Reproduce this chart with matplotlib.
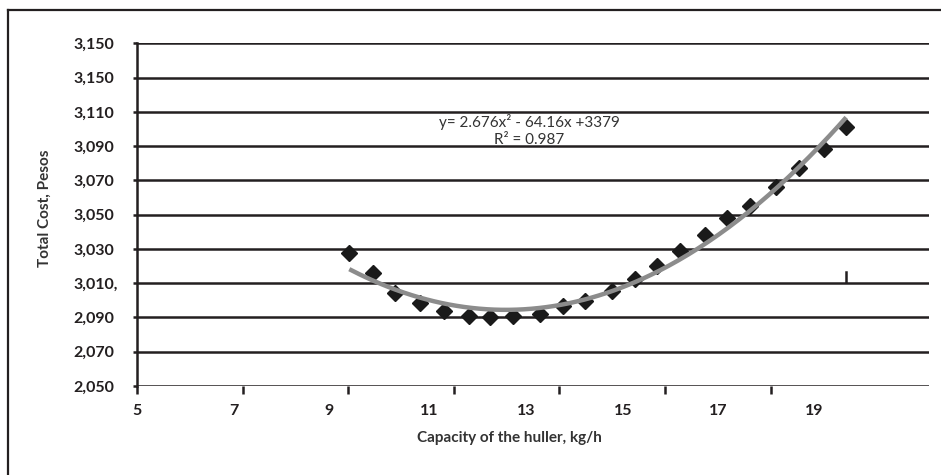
import numpy as np
import matplotlib.pyplot as plt

# capacity of the huller (kg/h) and total cost (pesos)
capacity = [9.02, 9.47, 9.88, 10.35, 10.81, 11.28, 11.68, 12.13, 12.64, 13.06, 13.49,
            13.99, 14.44, 14.84, 15.28, 15.75, 16.18, 16.60, 17.11, 17.54, 18.01, 18.43]
total_cost = [3027.4, 3016.1, 3004.1, 2998.3, 2993.9, 2991.0, 2990.1, 2991.0, 2992.0, 2996.7, 2999.6,
              3005.6, 3012.4, 3020.2, 3029.0, 3038.1, 3047.9, 3055.0, 3066.0, 3077.0, 3088.1, 3101.0]

y_ticks = [2950, 2970, 2990, 3010, 3030, 3050, 3070, 3090, 3110, 3130, 3150]
y_labels = ['2,050', '2,070', '2,090', '3,010,', '3,030', '3,050', '3,070', '3,090', '3,110', '3,150', '3,150']
x_ticks = [5, 7, 9, 11, 13, 15, 17]
x_labels = ['5', '7', '9', '11', '13', '15', '17', '19']
x_label_pos = [5, 6.84, 8.64, 10.54, 12.37, 14.21, 16.01, 17.83]

eq_text = 'y= 2.676x² - 64.16x +3379\nR² = 0.987'

plt.rcParams['font.family'] = ['Lato', 'DejaVu Sans']
dark = '#231f20'

fig = plt.figure(figsize=(9.41, 4.75), dpi=100)

# outer frame (only left and top edges show in the original)
fig.add_artist(plt.Line2D([0.0085, 0.0085], [0, 0.979], color=dark, lw=1.6))
fig.add_artist(plt.Line2D([0.0085, 1.0], [0.979, 0.979], color=dark, lw=1.6))

ax = fig.add_axes([0.1456, 0.1874, 0.8417, 0.7215])

# trendline fitted on the data
coef = np.polyfit(capacity, total_cost, 2)
xs = np.linspace(min(capacity), max(capacity), 200)
ax.plot(xs, np.polyval(coef, xs), color='#8c8c8c', lw=3.2, zorder=4, solid_capstyle='butt')
ax.plot(capacity, total_cost, linestyle='none', marker='D', markersize=8,
        color='#1a1a1a', zorder=3)

# stray mark seen in the original
ax.plot([capacity[-1], capacity[-1]], [0.303, 0.333], color=dark, lw=1.8,
        transform=ax.get_xaxis_transform())

ax.set_xlim(5, 20)
ax.set_ylim(2950, 3150)

ax.set_yticks(y_ticks)
ax.set_yticklabels(y_labels, fontweight='bold', fontsize=11.5, color=dark)
for lab in ax.get_yticklabels():
    lab.set_horizontalalignment('left')
ax.tick_params(axis='y', length=3, width=1.8, color=dark, pad=43)

ax.xaxis.remove_overlapping_locs = False
ax.set_xticks(x_ticks)
ax.set_xticklabels([''] * len(x_ticks))
ax.tick_params(axis='x', which='major', length=6, width=1.8, color=dark)
ax.set_xticks(x_label_pos, minor=True)
ax.set_xticklabels(x_labels, minor=True, fontweight='bold', fontsize=11.5, color=dark)
ax.tick_params(axis='x', which='minor', length=0, pad=13)

ax.grid(axis='y', color=dark, lw=1.8)
ax.set_axisbelow(True)
for s in ['top', 'right', 'bottom']:
    ax.spines[s].set_visible(False)
ax.spines['left'].set_color(dark)
ax.spines['left'].set_linewidth(1.8)

ax.set_xlabel('Capacity of the huller, kg/h', fontweight='bold', fontsize=11, color='#333333')
ax.xaxis.set_label_coords(0.47, -0.132)
ax.set_ylabel('Total Cost, Pesos', fontweight='bold', fontsize=11, color='#333333')
ax.yaxis.set_label_coords(-0.107, 0.52)

ax.text(0.495, 0.745, eq_text, transform=ax.transAxes, ha='center', va='center',
        fontsize=11, color='#333333', linespacing=1.25)

plt.savefig('out.png', dpi=100)
